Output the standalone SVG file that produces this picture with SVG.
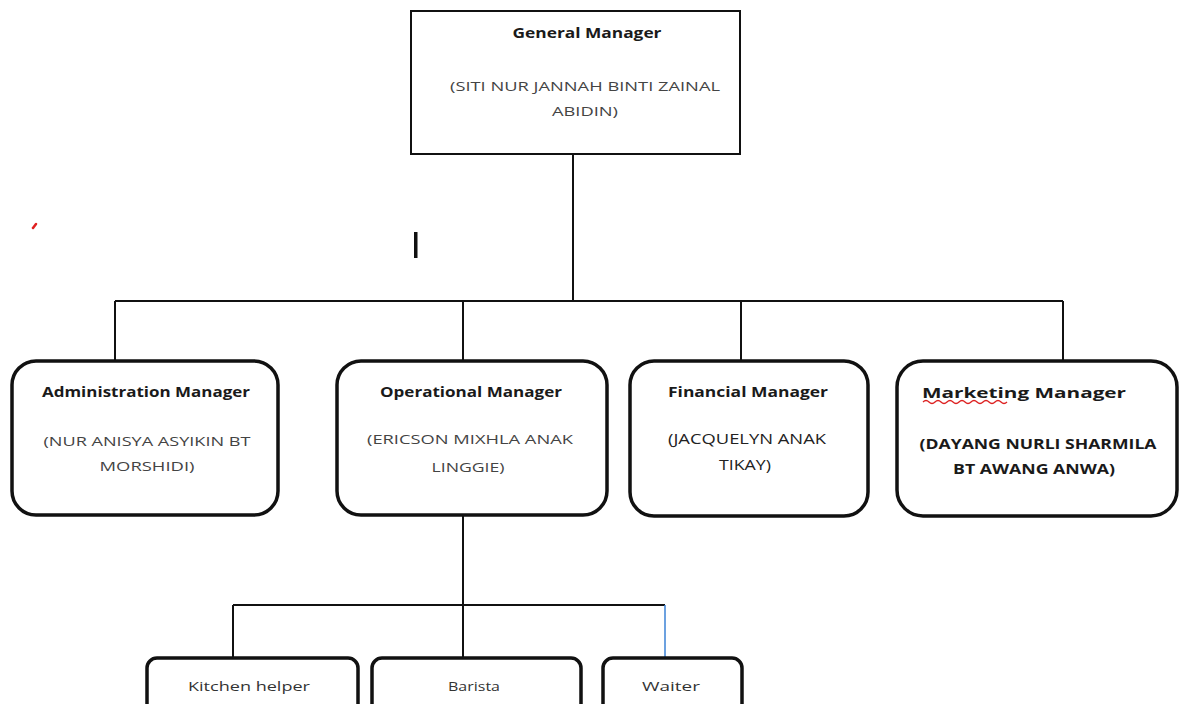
<svg xmlns="http://www.w3.org/2000/svg" width="1185" height="704" viewBox="0 0 1185 704">
<style>
.box{fill:#fff;stroke:#111;stroke-width:3.5}
.gm{fill:#fff;stroke:#111;stroke-width:2}
.small{fill:#fff;stroke:#111;stroke-width:3.5}
.ln{stroke:#111;stroke-width:2;fill:none}
.t{font-family:"Open Sans","Liberation Sans",sans-serif;font-size:14px;font-weight:bold;fill:#1a1a1a;text-anchor:middle}
.n{font-family:"Open Sans","Liberation Sans",sans-serif;font-size:13px;fill:#444;text-anchor:middle}
.nb{font-family:"Open Sans","Liberation Sans",sans-serif;font-size:14px;font-weight:bold;fill:#1a1a1a;text-anchor:middle}
.s{font-family:"Open Sans","Liberation Sans",sans-serif;font-size:13px;fill:#333;text-anchor:middle}
</style>
<rect width="1185" height="704" fill="#fff"/>
<g id="connectors">
<path class="ln" d="M573 154 V301"/>
<path class="ln" d="M115 301 H1063"/>
<path class="ln" d="M115 301 V361"/>
<path class="ln" d="M463 301 V361"/>
<path class="ln" d="M741 301 V361"/>
<path class="ln" d="M1063 301 V361"/>
<path class="ln" d="M463 516 V657"/>
<path class="ln" d="M233 605 H665"/>
<path class="ln" d="M233 605 V657"/>
<path d="M665 605 V657" stroke="#3b82d6" stroke-width="1.5" fill="none"/>
</g>
<g id="general-manager">
<rect class="gm" x="411" y="11" width="329" height="143"/>
<text class="t" x="587" y="38" textLength="149" lengthAdjust="spacingAndGlyphs">General Manager</text>
<text class="n" x="585" y="91" textLength="270" lengthAdjust="spacingAndGlyphs">(SITI NUR JANNAH BINTI ZAINAL</text>
<text class="n" x="585" y="116" textLength="66" lengthAdjust="spacingAndGlyphs">ABIDIN)</text>
</g>
<g id="administration-manager">
<rect class="box" x="12" y="361" width="266" height="154" rx="24"/>
<text class="t" x="146" y="397" textLength="208" lengthAdjust="spacingAndGlyphs">Administration Manager</text>
<text class="n" x="147" y="446" textLength="207" lengthAdjust="spacingAndGlyphs">(NUR ANISYA ASYIKIN  BT</text>
<text class="n" x="147" y="471" textLength="95" lengthAdjust="spacingAndGlyphs">MORSHIDI)</text>
</g>
<g id="operational-manager">
<rect class="box" x="337" y="361" width="270" height="154" rx="24"/>
<text class="t" x="471" y="397" textLength="182" lengthAdjust="spacingAndGlyphs">Operational Manager</text>
<text class="n" x="470" y="444" textLength="206" lengthAdjust="spacingAndGlyphs">(ERICSON MIXHLA ANAK</text>
<text class="n" x="468" y="472" textLength="73" lengthAdjust="spacingAndGlyphs">LINGGIE)</text>
</g>
<g id="financial-manager">
<rect class="box" x="630" y="361" width="238" height="155" rx="24"/>
<text class="t" x="748" y="397" textLength="160" lengthAdjust="spacingAndGlyphs">Financial Manager</text>
<text class="nb" x="747" y="444" textLength="158" lengthAdjust="spacingAndGlyphs" style="font-weight:normal;fill:#222">(JACQUELYN ANAK</text>
<text class="nb" x="745" y="470" textLength="52" lengthAdjust="spacingAndGlyphs" style="font-weight:normal;fill:#222">TIKAY)</text>
</g>
<g id="marketing-manager">
<rect class="box" x="897" y="361" width="280" height="155" rx="26"/>
<text class="t" x="1024" y="398" textLength="204" lengthAdjust="spacingAndGlyphs">Marketing Manager</text>
<path d="M923 402 q3 -3 6 0 t6 0 t6 0 t6 0 t6 0 t6 0 t6 0 t6 0 t6 0 t6 0 t6 0 t6 0 t6 0 t6 0" stroke="#d22" stroke-width="1.3" fill="none"/>
<text class="nb" x="1038" y="449" textLength="237" lengthAdjust="spacingAndGlyphs">(DAYANG NURLI SHARMILA</text>
<text class="nb" x="1034" y="474" textLength="162" lengthAdjust="spacingAndGlyphs">BT AWANG ANWA)</text>
</g>
<g id="kitchen-helper">
<rect class="small" x="147" y="658" width="211" height="56" rx="10"/>
<text class="s" x="249" y="691" textLength="122" lengthAdjust="spacingAndGlyphs">Kitchen helper</text>
</g>
<g id="barista">
<rect class="small" x="372" y="658" width="209" height="56" rx="10"/>
<text class="s" x="474" y="691" textLength="52" lengthAdjust="spacingAndGlyphs">Barista</text>
</g>
<g id="waiter">
<rect class="small" x="603" y="658" width="139" height="56" rx="10"/>
<text class="s" x="671" y="691" textLength="58" lengthAdjust="spacingAndGlyphs">Waiter</text>
</g>
<g id="marks">
<rect x="414" y="232" width="3.5" height="26" fill="#111"/>
<path d="M33 228 l3 -4" stroke="#e02020" stroke-width="2.5" stroke-linecap="round"/>
</g>
</svg>
